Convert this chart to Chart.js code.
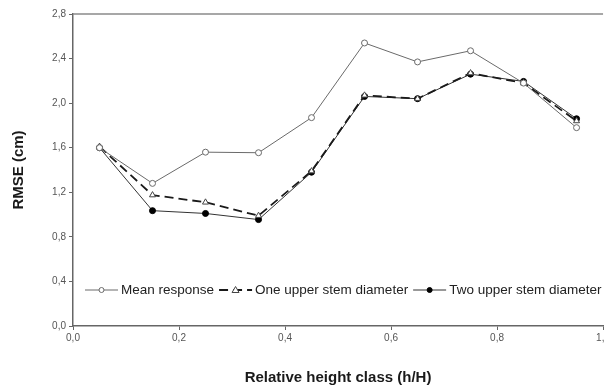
<!DOCTYPE html>
<html>
<head>
<meta charset="utf-8">
<script src="https://cdn.jsdelivr.net/npm/chart.js@4.4.1/dist/chart.umd.min.js"></script>
<style>
  html, body { margin: 0; padding: 0; background: #fff; overflow: hidden; }
  #wrap { position: relative; width: 612px; height: 387px; }
</style>
</head>
<body>
<div id="wrap"><canvas id="grafico"></canvas></div>
<script>
// Classes de altura relativa (h/H)
const classes = [0.05, 0.15, 0.25, 0.35, 0.45, 0.55, 0.65, 0.75, 0.85, 0.95];
const mediaResposta = [1.60, 1.28, 1.56, 1.555, 1.87, 2.54, 2.37, 2.47, 2.18, 1.78];
const umDiametro = [1.61, 1.175, 1.11, 0.99, 1.39, 2.07, 2.04, 2.27, 2.18, 1.84];
const doisDiametros = [1.60, 1.035, 1.01, 0.955, 1.38, 2.06, 2.04, 2.26, 2.195, 1.86];
const nomesSeries = ["Mean response", "One upper stem diameter", "Two upper stem diameter"];
const ticksX = [0, 0.2, 0.4, 0.6, 0.8, 1.0];
const ticksY = [0, 0.4, 0.8, 1.2, 1.6, 2.0, 2.4, 2.8];

const pontos = (valores) => classes.map((x, i) => ({ x, y: valores[i] }));
const virgula = (v) => Number(v).toFixed(1).replace(".", ",");

// Legenda dentro da área do gráfico + linha superior do quadro
const legendaInterna = {
  id: "legendaInterna",
  afterDraw(chart) {
    const { ctx, chartArea } = chart;
    ctx.save();
    ctx.strokeStyle = "#8a8a8a";
    ctx.lineWidth = 1.5;
    ctx.beginPath();
    ctx.moveTo(chartArea.left, chartArea.top);
    ctx.lineTo(chartArea.right, chartArea.top);
    ctx.stroke();

    ctx.font = "13.5px 'Liberation Sans', Arial, sans-serif";
    ctx.textBaseline = "middle";
    ctx.fillStyle = "#222";
    let x = 85;
    const y = 290;
    chart.data.datasets.forEach((ds) => {
      ctx.strokeStyle = ds.borderColor;
      ctx.lineWidth = ds.borderWidth;
      ctx.setLineDash(ds.borderDash || []);
      ctx.beginPath();
      ctx.moveTo(x, y);
      ctx.lineTo(x + 33, y);
      ctx.stroke();
      ctx.setLineDash([]);
      ctx.lineWidth = 1;
      ctx.strokeStyle = ds.pointBorderColor;
      ctx.fillStyle = ds.pointBackgroundColor;
      ctx.beginPath();
      if (ds.pointStyle === "triangle") {
        ctx.moveTo(x + 16.5, y - 3.5);
        ctx.lineTo(x + 20, y + 2.5);
        ctx.lineTo(x + 13, y + 2.5);
        ctx.closePath();
      } else {
        ctx.arc(x + 16.5, y, 2.5, 0, Math.PI * 2);
      }
      ctx.fill();
      ctx.stroke();
      ctx.fillStyle = "#222";
      ctx.fillText(ds.label, x + 36, y);
      x += 36 + ctx.measureText(ds.label).width + 5;
    });
    ctx.restore();
  }
};

new Chart(document.getElementById("grafico").getContext("2d"), {
  type: "line",
  data: {
    datasets: [
      {
        label: nomesSeries[0], data: pontos(mediaResposta),
        borderColor: "#6a6a6a", borderWidth: 1, pointStyle: "circle", pointRadius: 3,
        pointBorderColor: "#6a6a6a", pointBackgroundColor: "#fff", pointBorderWidth: 1
      },
      {
        label: nomesSeries[1], data: pontos(umDiametro),
        borderColor: "#1a1a1a", borderWidth: 1.8, borderDash: [9, 5], pointStyle: "triangle", pointRadius: 3.5,
        pointBorderColor: "#444", pointBackgroundColor: "#fff", pointBorderWidth: 1
      },
      {
        label: nomesSeries[2], data: pontos(doisDiametros),
        borderColor: "#333", borderWidth: 1, pointStyle: "circle", pointRadius: 3,
        pointBorderColor: "#000", pointBackgroundColor: "#000", pointBorderWidth: 1
      }
    ]
  },
  options: {
    responsive: true,
    maintainAspectRatio: false,
    animation: false,
    layout: { padding: { top: 14, right: 7, left: 6 } },
    plugins: { legend: { display: false }, tooltip: { enabled: false } },
    scales: {
      x: {
        type: "linear", min: 0, max: 1,
        afterBuildTicks: (s) => { s.ticks = ticksX.map((v) => ({ value: v })); },
        afterFit: (s) => { s.height = 61; },
        grid: { drawOnChartArea: false, drawTicks: true, tickLength: 4, color: "#666" },
        border: { color: "#666", width: 1.5 },
        ticks: { callback: (v) => virgula(v), color: "#555", font: { size: 10, family: "'Liberation Sans', Arial" }, padding: 2, maxRotation: 0 },
        title: { display: true, text: "Relative height class (h/H)", color: "#1a1a1a", font: { size: 15, weight: "bold", family: "'Liberation Sans', Arial" }, padding: { top: 25, bottom: 0 } }
      },
      y: {
        min: 0, max: 2.8,
        afterBuildTicks: (s) => { s.ticks = ticksY.map((v) => ({ value: v })); },
        afterFit: (s) => { s.width = 67; },
        grid: { drawOnChartArea: false, drawTicks: true, tickLength: 4, color: "#666" },
        border: { color: "#666", width: 1.5 },
        ticks: { callback: (v) => virgula(v), color: "#555", font: { size: 10, family: "'Liberation Sans', Arial" }, padding: 3 },
        title: { display: true, text: "RMSE (cm)", color: "#1a1a1a", font: { size: 15, weight: "bold", family: "'Liberation Sans', Arial" }, padding: { bottom: 16 } }
      }
    }
  },
  plugins: [legendaInterna]
});
</script>
</body>
</html>
